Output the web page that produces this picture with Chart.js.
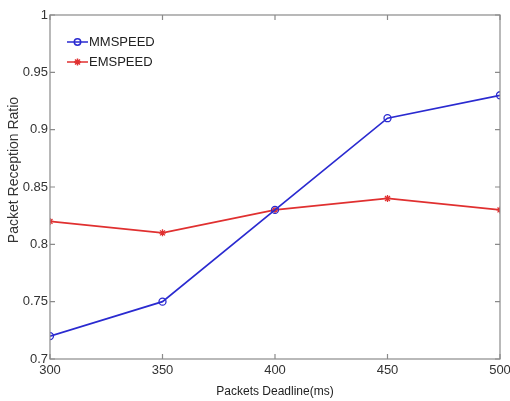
<!DOCTYPE html>
<html><head><meta charset="utf-8">
<script src="https://cdn.jsdelivr.net/npm/chart.js@4"></script>
<style>html,body{margin:0;padding:0;background:#fff}#wrap{width:510px;height:401px}</style>
</head><body><div id="wrap"><canvas id="c" width="510" height="401"></canvas></div>
<script>
const deadlines = [300, 350, 400, 450, 500];
const mmspeed = [0.72, 0.75, 0.83, 0.91, 0.93];
const emspeed = [0.82, 0.81, 0.83, 0.84, 0.83];
const xTickValues = [300, 350, 400, 450, 500];
const yTickValues = [0.7, 0.75, 0.8, 0.85, 0.9, 0.95, 1];
const yTitle = 'Packet Reception Ratio';
const xTitle = 'Packets Deadline(ms)';

const FONT = "'Liberation Sans', Arial, sans-serif";
const AXIS = '#8a8a8a';

const boxTicks = {
  id: 'boxTicks',
  afterDraw(chart) {
    const {ctx, chartArea: a, scales: {x, y}} = chart;
    ctx.save();
    ctx.strokeStyle = AXIS; ctx.lineWidth = 1.2;
    ctx.strokeRect(a.left, a.top, a.right - a.left, a.bottom - a.top);
    const L = 5;
    xTickValues.forEach(v => {
      const px = x.getPixelForValue(v);
      ctx.beginPath(); ctx.moveTo(px, a.bottom); ctx.lineTo(px, a.bottom - L);
      ctx.moveTo(px, a.top); ctx.lineTo(px, a.top + L); ctx.stroke();
    });
    yTickValues.forEach(v => {
      const py = y.getPixelForValue(v);
      ctx.beginPath(); ctx.moveTo(a.left, py); ctx.lineTo(a.left + L, py);
      ctx.moveTo(a.right, py); ctx.lineTo(a.right - L, py); ctx.stroke();
    });
    // y title
    ctx.save();
    ctx.translate(14, 170); ctx.rotate(-Math.PI / 2);
    ctx.fillStyle = '#333'; ctx.font = '14px ' + FONT;
    ctx.textAlign = 'center'; ctx.textBaseline = 'middle';
    ctx.fillText(yTitle, 0, 0);
    ctx.restore();
    // legend inside
    chart.data.datasets.forEach((ds, i) => {
      const ly = a.top + 27 + i * 20;
      const lx = a.left + 17;
      ctx.strokeStyle = ds.borderColor; ctx.lineWidth = 1.5;
      ctx.beginPath(); ctx.moveTo(lx, ly); ctx.lineTo(lx + 21, ly); ctx.stroke();
      if (ds.pointStyle === 'circle') {
        ctx.beginPath(); ctx.arc(lx + 10.5, ly, 3.2, 0, Math.PI * 2); ctx.stroke();
      } else {
        ctx.beginPath();
        for (let k = 0; k < 4; k++) {
          const ang = k * Math.PI / 4;
          ctx.moveTo(lx + 10.5 - 3.5 * Math.cos(ang), ly - 3.5 * Math.sin(ang));
          ctx.lineTo(lx + 10.5 + 3.5 * Math.cos(ang), ly + 3.5 * Math.sin(ang));
        }
        ctx.stroke();
      }
      ctx.fillStyle = '#222'; ctx.font = '13px ' + FONT;
      ctx.textBaseline = 'middle'; ctx.textAlign = 'left';
      ctx.fillText(ds.label, lx + 22, ly);
    });
    ctx.restore();
  }
};

new Chart(document.getElementById('c'), {
  type: 'line',
  data: {
    datasets: [
      { label: 'MMSPEED', data: deadlines.map((d, i) => ({x: d, y: mmspeed[i]})),
        borderColor: '#2a2ad0', backgroundColor: 'rgba(0,0,0,0)', borderWidth: 1.7,
        pointStyle: 'circle', pointRadius: 3.5, pointBorderWidth: 1.3, pointBorderColor: '#2a2ad0', tension: 0 },
      { label: 'EMSPEED', data: deadlines.map((d, i) => ({x: d, y: emspeed[i]})),
        borderColor: '#e03030', backgroundColor: '#e03030', borderWidth: 1.7,
        pointStyle: 'star', pointRadius: 3.5, pointBorderWidth: 1.3, pointBorderColor: '#e03030', tension: 0 }
    ]
  },
  options: {
    responsive: false, animation: false,
    layout: { padding: { left: 0, right: 0, top: 15, bottom: 0 } },
    plugins: { legend: { display: false }, tooltip: { enabled: false } },
    scales: {
      x: {
        type: 'linear', min: 300, max: 500,
        afterBuildTicks: s => { s.ticks = xTickValues.map(v => ({value: v})); },
        afterFit: s => { s.height = 42; s.paddingRight = 10; s.paddingLeft = 0; },
        grid: { display: false, drawTicks: false },
        border: { display: false },
        ticks: { color: '#333', font: { family: FONT, size: 13 }, padding: 4, maxRotation: 0 },
        title: { display: true, text: xTitle, color: '#222', font: { family: FONT, size: 12 }, padding: { top: 0, bottom: 2 } }
      },
      y: {
        min: 0.7, max: 1,
        afterBuildTicks: s => { s.ticks = yTickValues.map(v => ({value: v})); },
        afterFit: s => { s.width = 50; },
        grid: { display: false, drawTicks: false },
        border: { display: false },
        ticks: { color: '#333', font: { family: FONT, size: 13 }, padding: 2,
          callback: v => String(+v.toFixed(2)) }
      }
    }
  },
  plugins: [boxTicks]
});
</script></body></html>
